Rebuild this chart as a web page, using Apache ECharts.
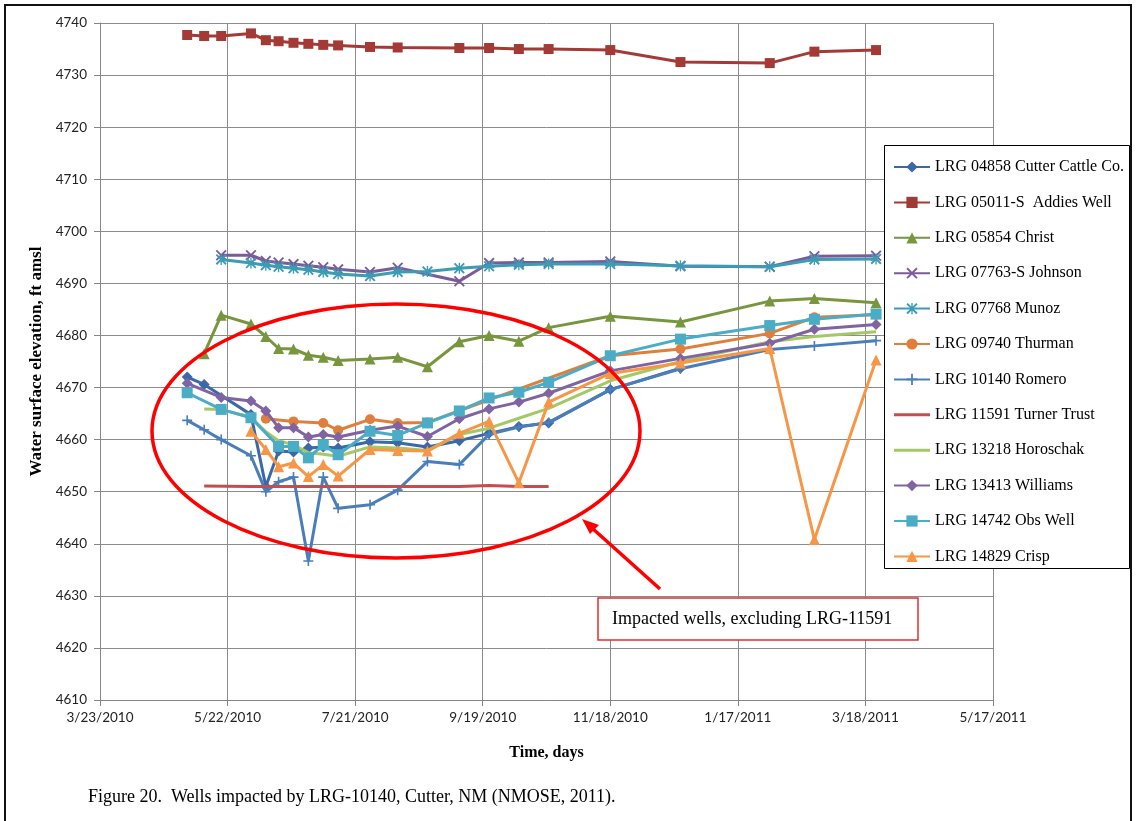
<!DOCTYPE html>
<html>
<head>
<meta charset="utf-8">
<script src="https://cdn.jsdelivr.net/npm/echarts@6/dist/echarts.min.js"></script>
<style>
  html, body { margin: 0; padding: 0; background: #fff; }
  #chart { width: 1136px; height: 821px; }
</style>
</head>
<body>
<div id="chart"></div>
<script>
// sampling dates shared by the wells (null = no reading that day)
const sampleDates = [
  "2010-05-03", "2010-05-11", "2010-05-19", "2010-06-02", "2010-06-09", "2010-06-15",
  "2010-06-22", "2010-06-29", "2010-07-06", "2010-07-13", "2010-07-28", "2010-08-10",
  "2010-08-24", "2010-09-08", "2010-09-22", "2010-10-06", "2010-10-20", "2010-11-18",
  "2010-12-21", "2011-02-01", "2011-02-22", "2011-03-23"
]

const cutterCattle = [4672.0, 4670.6, null, 4664.8, 4651.0, 4657.8, 4657.6, 4658.4, 4658.6, 4658.4, 4659.6, 4659.4, 4658.6, 4659.8, 4661.2, 4662.5, 4663.2, 4669.6, 4673.7, null, null, null]
const addiesWell = [4737.7, 4737.5, 4737.5, 4738.0, 4736.7, 4736.5, 4736.2, 4736.0, 4735.8, 4735.7, 4735.4, 4735.3, null, 4735.2, 4735.2, 4735.0, 4735.0, 4734.8, 4732.5, 4732.3, 4734.5, 4734.8]
const christ = [null, 4676.5, 4683.9, 4682.2, 4679.8, 4677.5, 4677.4, 4676.2, 4675.8, 4675.2, 4675.5, 4675.8, 4674.0, 4678.8, 4680.0, 4678.9, 4681.5, 4683.7, 4682.6, 4686.6, 4687.1, 4686.3]
const johnson = [null, null, 4695.4, 4695.4, 4694.3, 4694.0, 4693.7, 4693.4, 4693.1, 4692.7, 4692.2, 4693.0, null, 4690.4, 4693.9, 4694.0, 4694.0, 4694.2, 4693.3, 4693.2, 4695.2, 4695.3]
const munoz = [null, null, 4694.6, 4693.9, 4693.5, 4693.2, 4692.9, 4692.6, 4692.2, 4691.8, 4691.4, 4692.2, 4692.3, 4692.9, 4693.3, 4693.6, 4693.7, 4693.7, 4693.4, 4693.2, 4694.6, 4694.7]
const thurman = [null, null, null, null, 4664.0, null, 4663.5, null, 4663.2, 4661.8, 4663.9, 4663.2, 4663.3, null, null, null, null, 4676.1, 4677.4, 4680.4, 4683.5, 4684.0]
const romero = [4663.7, 4661.9, 4660.0, 4656.9, 4650.0, 4651.9, 4652.8, 4636.7, 4652.8, 4646.8, 4647.5, 4650.3, 4655.8, 4655.2, 4661.0, 4662.4, 4663.3, 4669.6, 4673.6, 4677.3, 4678.0, 4679.0]
const turnerTrust = [null, 4651.1, null, 4651.0, null, null, 4651.0, null, null, 4651.0, null, 4651.0, null, 4651.0, 4651.2, 4651.0, 4651.0, null, null, null, null, null]
const horoschak = [null, 4665.9, 4665.8, 4664.3, 4661.5, 4659.8, 4659.0, 4657.5, 4657.2, 4656.8, 4658.6, 4658.4, 4657.9, 4661.0, 4662.2, 4664.1, 4666.0, 4671.3, 4675.0, 4678.8, 4679.8, 4680.7]
const williams = [4670.8, null, 4668.1, 4667.4, 4665.5, 4662.3, 4662.3, 4660.5, 4661.0, 4660.5, 4661.8, 4662.6, 4660.6, 4664.0, 4665.9, 4667.2, 4668.9, 4673.2, 4675.6, 4678.5, 4681.2, 4682.1]
const obsWell = [4669.0, null, 4665.8, 4664.2, null, 4658.7, 4658.7, 4656.5, 4659.0, 4657.1, 4661.6, 4660.8, 4663.2, 4665.5, 4668.0, 4669.1, 4671.0, 4676.1, 4679.3, 4681.9, 4683.1, 4684.1]
const crisp = [null, null, null, 4661.6, 4658.1, 4654.8, 4655.5, 4652.9, 4655.2, 4653.0, 4658.1, 4657.9, 4657.8, 4661.2, 4663.5, 4651.7, 4667.2, 4672.7, 4674.7, 4677.5, 4640.8, 4675.3]

const wellNames = [
  "LRG 04858 Cutter Cattle Co.", "LRG 05011-S  Addies Well", "LRG 05854 Christ",
  "LRG 07763-S Johnson", "LRG 07768 Munoz", "LRG 09740 Thurman", "LRG 10140 Romero",
  "LRG 11591 Turner Trust", "LRG 13218 Horoschak", "LRG 13413 Williams",
  "LRG 14742 Obs Well", "LRG 14829 Crisp"
]

// x axis runs in days from 3/23/2010, ticks every 60 days
const origin = Date.UTC(2010, 2, 23)
const dayMs = 86400000

function toDay(s) {
  const p = s.split("-").map(Number)
  return (Date.UTC(p[0], p[1] - 1, p[2]) - origin) / dayMs
}

function dayLabel(v) {
  const dt = new Date(origin + v * dayMs)
  return (dt.getUTCMonth() + 1) + "/" + dt.getUTCDate() + "/" + dt.getUTCFullYear()
}

function pairs(vals) {
  return sampleDates.map((d, i) => [toDay(d), vals[i]]).filter((p) => p[1] != null)
}

const xMark = "path://M0,1.2L1.2,0L10,8.8L8.8,10Z M8.8,0L10,1.2L1.2,10L0,8.8Z"
const starMark = "path://M0,1.2L1.2,0L10,8.8L8.8,10Z M8.8,0L10,1.2L1.2,10L0,8.8Z M4.4,0L5.6,0L5.6,10L4.4,10Z"
const plusMark = "path://M4.2,0L5.8,0L5.8,10L4.2,10Z M0,4.2L10,4.2L10,5.8L0,5.8Z"
const plainLine = "path://M0,0L36,0L36,3L0,3Z"

const styles = [
  { data: cutterCattle, color: "#3b68a8", symbol: "diamond", size: 11 },
  { data: addiesWell, color: "#a33a36", symbol: "rect", size: 10 },
  { data: christ, color: "#77963d", symbol: "triangle", size: 11 },
  { data: johnson, color: "#7b5a9c", symbol: xMark, size: 11 },
  { data: munoz, color: "#3b9cb4", symbol: starMark, size: 11 },
  { data: thurman, color: "#e07f3c", symbol: "circle", size: 10 },
  { data: romero, color: "#4a7ebb", symbol: plusMark, size: 10 },
  { data: turnerTrust, color: "#c0504d", symbol: "none", size: 0 },
  { data: horoschak, color: "#a5c867", symbol: "none", size: 0 },
  { data: williams, color: "#8064a2", symbol: "diamond", size: 11 },
  { data: obsWell, color: "#4bacc6", symbol: "rect", size: 11 },
  { data: crisp, color: "#f79646", symbol: "triangle", size: 11 }
]

const serif = "Liberation Serif"
const chart = echarts.init(document.getElementById("chart"))

chart.setOption({
  animation: false,
  backgroundColor: "#fff",
  grid: { left: 100, top: 23, width: 893, height: 677 },
  xAxis: {
    type: "value",
    min: 0,
    max: 420,
    interval: 60,
    name: "Time, days",
    nameLocation: "middle",
    nameGap: 45,
    nameTextStyle: { fontFamily: serif, fontWeight: "bold", fontSize: 16, color: "#000" },
    axisLine: { lineStyle: { color: "#868686" } },
    axisTick: { show: true, length: 6, lineStyle: { color: "#868686" } },
    axisLabel: { formatter: dayLabel, fontFamily: "Lato", fontSize: 13.5, color: "#222", margin: 11 },
    splitLine: { show: true, lineStyle: { color: "#8c8c8c" } }
  },
  yAxis: {
    type: "value",
    min: 4610,
    max: 4740,
    interval: 10,
    name: "Water surface elevation, ft amsl",
    nameLocation: "middle",
    nameRotate: 90,
    nameGap: 51,
    nameTextStyle: { fontFamily: serif, fontWeight: "bold", fontSize: 17, color: "#000" },
    axisLine: { show: true, lineStyle: { color: "#868686" } },
    axisTick: { show: true, length: 6, lineStyle: { color: "#868686" } },
    axisLabel: { formatter: (v) => String(v), fontFamily: "Lato", fontSize: 13.5, color: "#222", margin: 13 },
    splitLine: { show: true, lineStyle: { color: "#8c8c8c" } }
  },
  legend: {
    orient: "vertical",
    left: 888,
    top: 154,
    itemWidth: 36,
    itemHeight: 14,
    itemGap: 19.4,
    z: 20,
    textStyle: { fontFamily: serif, fontSize: 16, color: "#000" },
    data: wellNames.map((n, i) =>
      styles[i].symbol === "none" ? { name: n, icon: plainLine } : { name: n })
  },
  graphic: [
    {
      type: "rect",
      z: 15,
      shape: { x: 884.5, y: 145.5, width: 245, height: 423 },
      style: { fill: "#fff", stroke: "#000", lineWidth: 1 }
    },
    {
      type: "rect",
      z: 1,
      silent: true,
      shape: { x: 5, y: 5, width: 1126, height: 840 },
      style: { fill: "none", stroke: "#111", lineWidth: 2 }
    },
    {
      type: "ellipse",
      z: 10,
      shape: { cx: 396, cy: 431, rx: 244, ry: 127 },
      style: { fill: "none", stroke: "#ff0000", lineWidth: 3.5 }
    },
    {
      type: "line",
      z: 10,
      shape: { x1: 660, y1: 589, x2: 592, y2: 528 },
      style: { stroke: "#ff0000", lineWidth: 3.5 }
    },
    {
      type: "polygon",
      z: 10,
      shape: { points: [[582, 519], [599, 525], [590, 534]] },
      style: { fill: "#ff0000" }
    },
    {
      type: "rect",
      z: 10,
      shape: { x: 598, y: 598, width: 320, height: 42 },
      style: { fill: "#fff", stroke: "#e03030", lineWidth: 1.5 }
    },
    {
      type: "text",
      z: 11,
      style: {
        x: 612, y: 619, text: "Impacted wells, excluding LRG-11591",
        font: "18px 'Liberation Serif'", fill: "#000", verticalAlign: "middle"
      }
    },
    {
      type: "text",
      z: 11,
      style: {
        x: 88, y: 797, text: "Figure 20.  Wells impacted by LRG-10140, Cutter, NM (NMOSE, 2011).",
        font: "18px 'Liberation Serif'", fill: "#000", verticalAlign: "middle"
      }
    }
  ],
  series: styles.map((s, i) => ({
    name: wellNames[i],
    type: "line",
    data: pairs(s.data),
    symbol: s.symbol,
    symbolSize: s.size,
    showSymbol: s.symbol !== "none",
    lineStyle: { color: s.color, width: 3 },
    itemStyle: { color: s.color, borderColor: s.color, borderWidth: 0 },
    z: 2 + i * 0.01
  }))
})
</script>
</body>
</html>
